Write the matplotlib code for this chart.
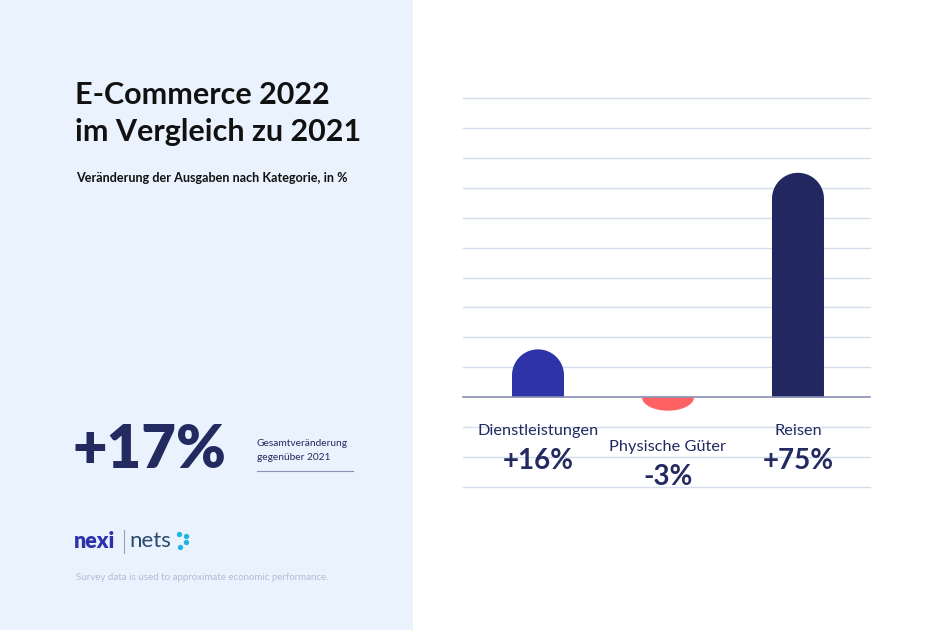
import matplotlib.pyplot as plt
import numpy as np
from matplotlib.patches import Rectangle, Polygon

plt.rcParams['font.family'] = ['Lato', 'DejaVu Sans']

# data
categories = ['Dienstleistungen', 'Physische Güter', 'Reisen']
values = [16, -3, 75]
value_labels = ['+16%', '-3%', '+75%']
bar_colors = ['#2E33A8', '#FF6262', '#222760']
y_ticks = list(range(-30, 101, 10))
total_change = '+17%'

navy = '#232A60'

fig = plt.figure(figsize=(9.45, 6.3), dpi=100)
fig.patch.set_facecolor('white')

# left panel background
fig.patches.append(Rectangle((0, 0), 413 / 945, 1, transform=fig.transFigure,
                             facecolor='#EAF2FD', edgecolor='none', zorder=0))

# titles
fig.text(75 / 945, 1 - 95 / 630, 'E-Commerce 2022', fontsize=22, fontweight='bold',
         color='#111111', va='center', ha='left')
fig.text(75 / 945, 1 - 132 / 630, 'im Vergleich zu 2021', fontsize=22, fontweight='bold',
         color='#111111', va='center', ha='left')
fig.text(76 / 945, 1 - 178 / 630, 'Veränderung der Ausgaben nach Kategorie, in %',
         fontsize=9.1, fontweight='bold', color='#111111', va='center', ha='left')

# big number
fig.text(73 / 945, 1 - 450 / 630, total_change, fontsize=43, fontweight='heavy',
         color=navy, va='center', ha='left')
fig.text(257 / 945, 1 - 444 / 630, 'Gesamtveränderung', fontsize=7.3, color=navy,
         va='center', ha='left')
fig.text(257 / 945, 1 - 458 / 630, 'gegenüber 2021', fontsize=7.3, color=navy,
         va='center', ha='left')
fig.add_artist(plt.Line2D([257 / 945, 353 / 945], [1 - 471 / 630, 1 - 471 / 630],
                          transform=fig.transFigure, color='#8A90B8', lw=0.8))

# logo
fig.text(74 / 945, 1 - 541 / 630, 'nexi', fontsize=15.5, fontweight='heavy',
         color='#2D32AA', va='center', ha='left')
fig.add_artist(plt.Line2D([124 / 945, 124 / 945], [1 - 530 / 630, 1 - 553 / 630],
                          transform=fig.transFigure, color='#9AA0B8', lw=0.8))
fig.text(129 / 945, 1 - 541 / 630, 'nets', fontsize=16, color='#2B4A6E',
         va='center', ha='left')
fig.add_artist(plt.Line2D([179 / 945, 186 / 945, 186 / 945, 180 / 945],
                          [1 - 534 / 630, 1 - 536 / 630, 1 - 542 / 630, 1 - 547 / 630],
                          transform=fig.transFigure, linestyle='none', marker='o',
                          markersize=2.8, color='#1EB4E6'))

fig.text(76 / 945, 1 - 577 / 630, 'Survey data is used to approximate economic performance.',
         fontsize=7.0, color='#B4BCD6', va='center', ha='left')

# chart
ax = fig.add_axes([463 / 945, 1 - 487 / 630, 407 / 945, 389 / 630])
ax.set_facecolor('none')
ax.set_xlim(-0.577, 2.554)
ax.set_ylim(-30, 100)
for t in y_ticks:
    if t == 0:
        ax.axhline(t, color='#8A8FB5', lw=1.2, zorder=3, clip_on=False)
    else:
        ax.axhline(t, color='#D6DDEC', lw=1, zorder=0, clip_on=False)
ax.axis('off')

x = np.arange(len(categories))
w = 0.4
# radius of rounded cap in data units (half bar width in pixels)
px_per_x = 407 / (2.554 + 0.577)
px_per_y = 389 / 130
r = (w / 2) * px_per_x / px_per_y

for xi, v, c in zip(x, values, bar_colors):
    sign = 1 if v >= 0 else -1
    cap = min(r, abs(v) * 1.5)
    body = max(abs(v) - cap, 0)
    t = np.linspace(0, np.pi, 60)
    px = np.concatenate([[xi + w / 2], xi + (w / 2) * np.cos(t), [xi - w / 2]])
    py = np.concatenate([[0], sign * (body + cap * np.sin(t)), [0]])
    ax.add_patch(Polygon(np.column_stack([px, py]), closed=True, facecolor=c,
                         edgecolor='none', zorder=2))

for xi, v, cat, lab in zip(x, values, categories, value_labels):
    base = min(v, 0) * 1.8
    ax.text(xi, base - 11.2, cat, ha='center', va='center', fontsize=11.8,
            color=navy)
    ax.text(xi, base - 21.3, lab, ha='center', va='center', fontsize=20,
            fontweight='bold', color=navy)

fig.savefig('out.png', dpi=100)
